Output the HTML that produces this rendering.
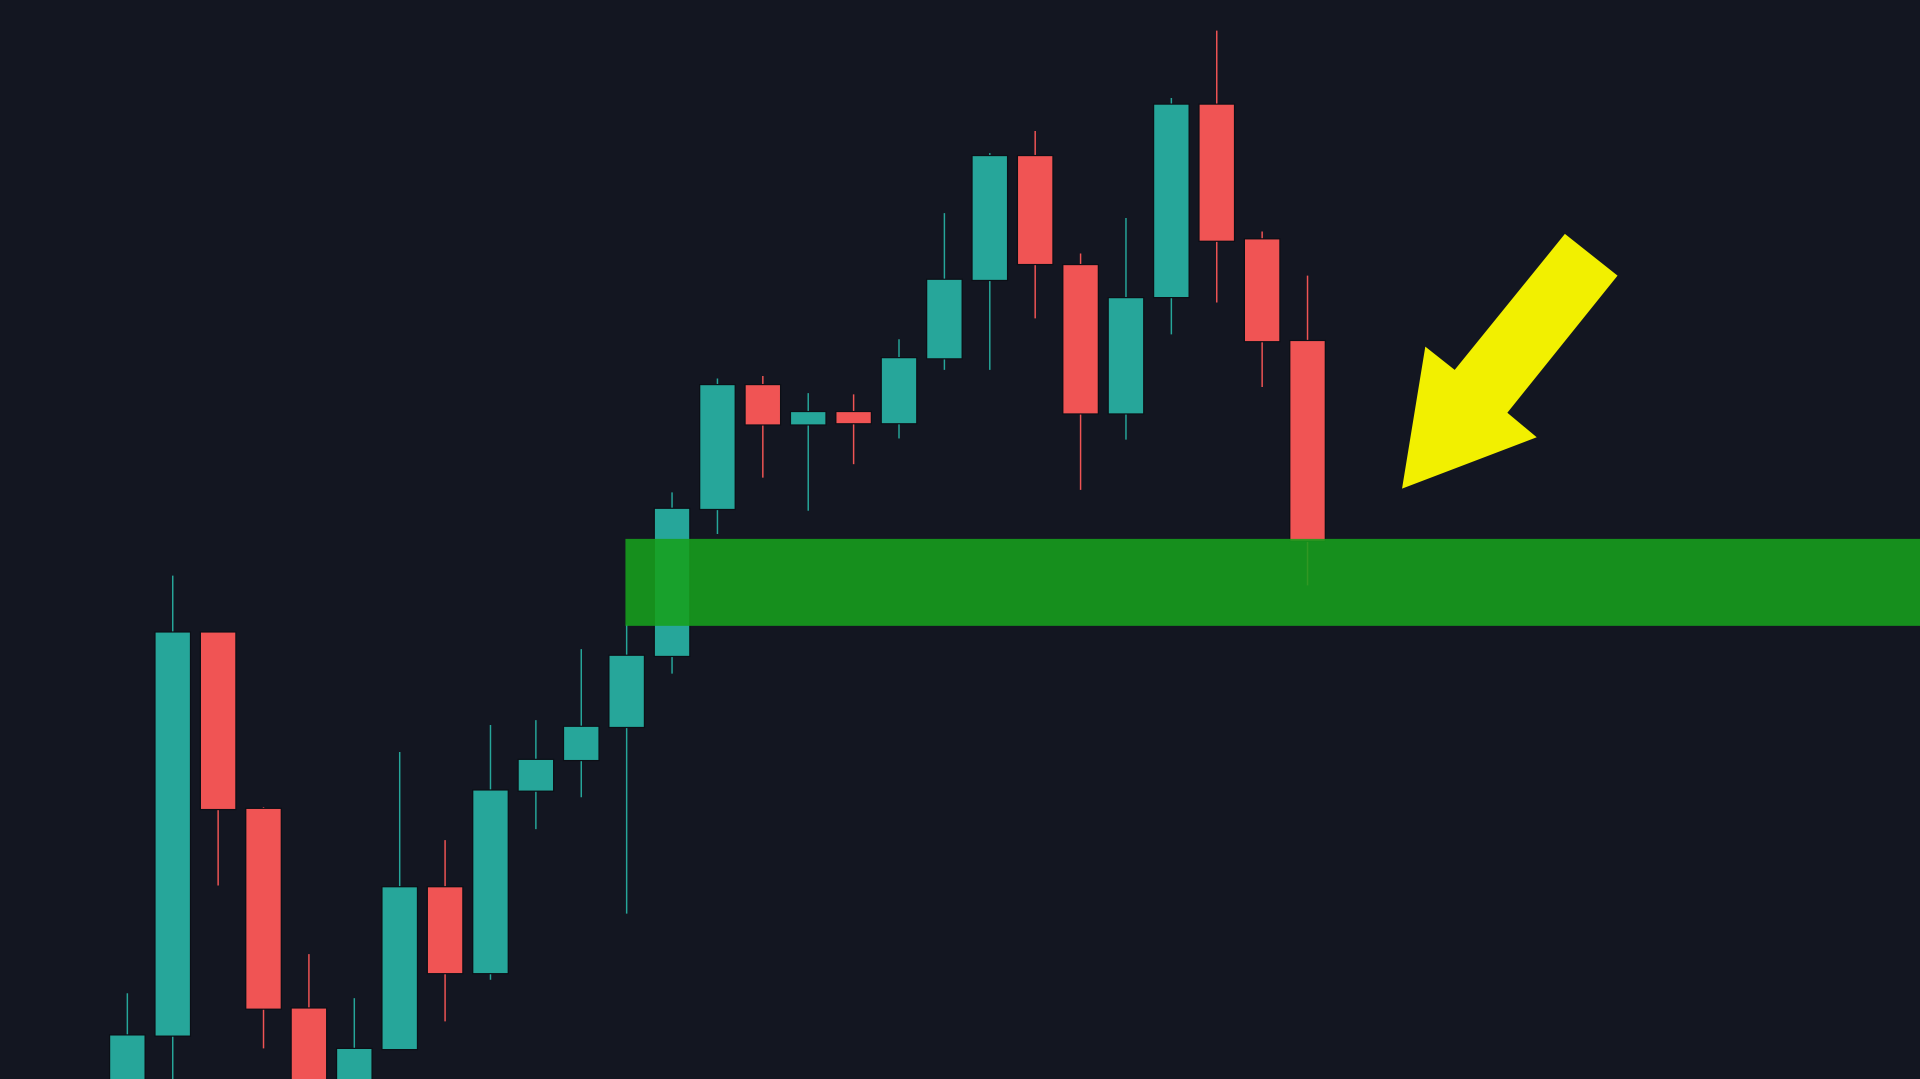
<!DOCTYPE html>
<html><head><meta charset="utf-8"><title>Candlestick chart</title>
<style>
html,body{margin:0;padding:0;background:#131621;overflow:hidden}
svg{display:block}
</style></head>
<body>
<svg id="chart" width="1920" height="1079" viewBox="0 0 1568 881" preserveAspectRatio="none" xmlns="http://www.w3.org/2000/svg">
<rect x="0" y="0" width="1568" height="881" fill="#131621"/>
<g id="candles"></g>
<rect id="zone" fill="#17a11d" fill-opacity="0.88"/>
<polygon fill="#f2f000" points="1145,399 1164,283 1188,302 1278,191 1321,225 1231,337 1255,357"/>
</svg>
<script>
const opens  = [-9,35,365,221,58,-9,24,157,86,235,260,287,345,465,567,534,545,535,588,652,754,665,543,638,796,686,603];
const highs  = [70,411,365,222,102,66,267,195,289,293,351,371,479,572,574,560,559,604,707,756,774,674,703,801,856,692,656];
const lows   = [-20,-9,158,25,-14,-14,24,47,81,204,230,135,331,445,491,464,502,523,579,579,621,481,522,608,634,565,403];
const closes = [36,365,220,57,-9,25,157,86,236,261,288,346,466,567,534,545,535,589,653,754,665,543,638,796,684,602,439];
const zoneRange = [370,441]; // price bottom, top
const zoneStartIndex = 11;

const NS='http://www.w3.org/2000/svg';
function xScale(i){return 104 + i*37.07;}
function yScale(p){return 881 - p;}
const bw = 29;
const g = document.getElementById('candles');
for(let i=0;i<opens.length;i++){
  const up = closes[i] >= opens[i];
  const col = up ? '#26a69a' : '#f05454';
  const cx = xScale(i);
  const wick = document.createElementNS(NS,'line');
  
  
  wick.setAttribute('x1',cx);wick.setAttribute('x2',cx);
  wick.setAttribute('y1',yScale(highs[i]));wick.setAttribute('y2',yScale(lows[i]));
  wick.setAttribute('stroke',col);wick.setAttribute('stroke-width','1.2');
  g.appendChild(wick);
  const body = document.createElementNS(NS,'rect');
  
  
  const top = yScale(Math.max(opens[i],closes[i]));
  const bot = yScale(Math.min(opens[i],closes[i]));
  body.setAttribute('x',cx-bw/2);body.setAttribute('width',bw);
  body.setAttribute('y',top);body.setAttribute('height',Math.max(1,bot-top));
  body.setAttribute('fill',col);body.setAttribute('stroke','#0c0f16');body.setAttribute('stroke-width','1');
  g.appendChild(body);
}
const z = document.getElementById('zone');
const zx = xScale(zoneStartIndex) - 1;
z.setAttribute('x',zx);z.setAttribute('width',1568-zx);
z.setAttribute('y',yScale(zoneRange[1]));z.setAttribute('height',zoneRange[1]-zoneRange[0]);
</script>
</body></html>
